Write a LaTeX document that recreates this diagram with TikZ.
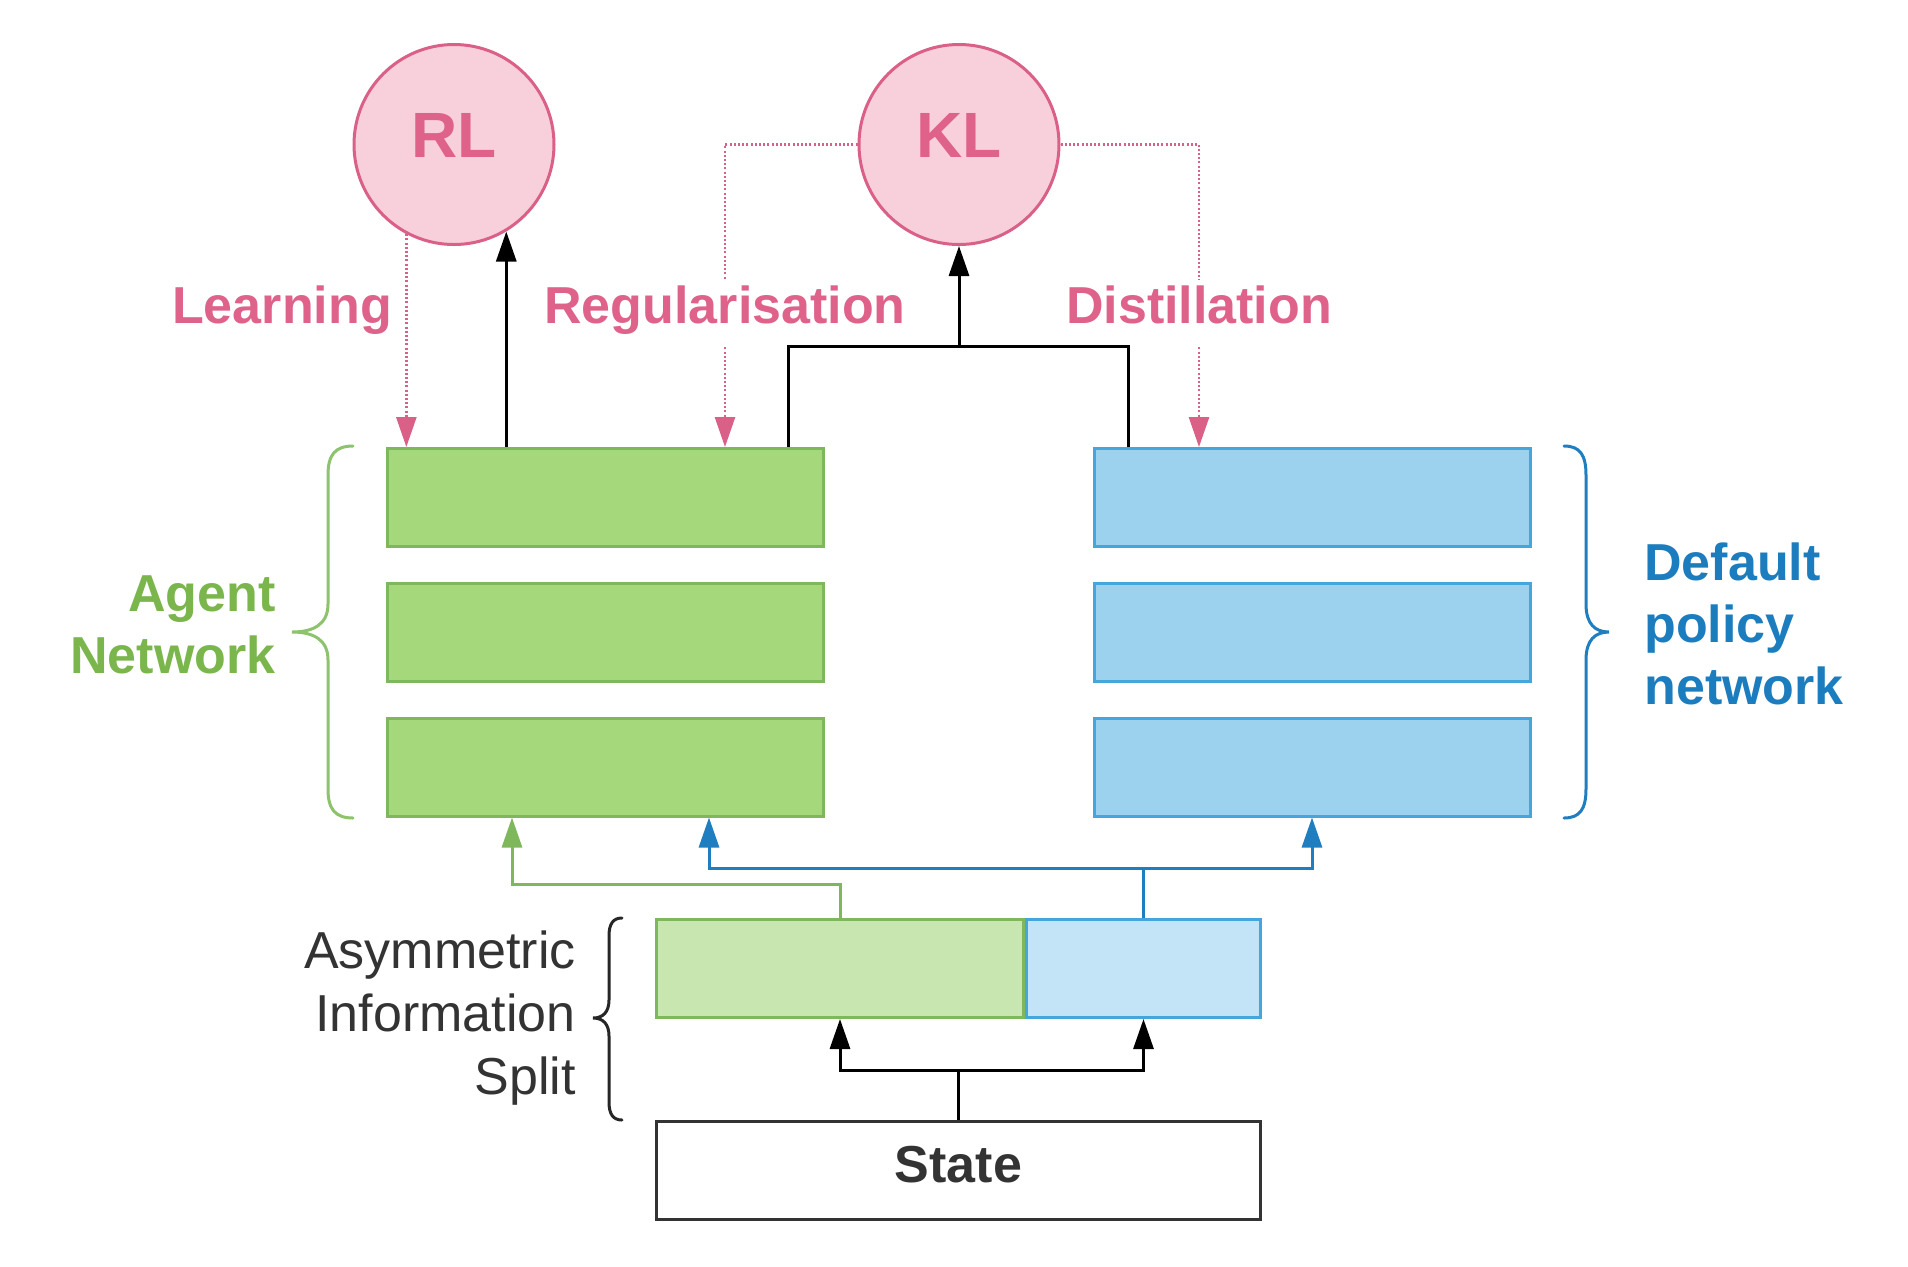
\documentclass[tikz,border=0pt]{standalone}
\usepackage{fontspec}
\setmainfont{Liberation Sans}
\usetikzlibrary{arrows.meta,calc}
\definecolor{pinktxt}{HTML}{DE628A}
\definecolor{pinkfill}{HTML}{F8D0DC}
\definecolor{pinkdraw}{HTML}{DA6088}
\definecolor{gfill}{HTML}{A5D87B}
\definecolor{gdraw}{HTML}{7FB85C}
\definecolor{gtxt}{HTML}{7AB64C}
\definecolor{glight}{HTML}{C8E6AF}
\definecolor{gbrace}{HTML}{8CC36C}
\definecolor{bfill}{HTML}{9DD2EF}
\definecolor{bdraw}{HTML}{45A6DD}
\definecolor{btxt}{HTML}{1C7DBE}
\definecolor{blight}{HTML}{C3E4F6}
\definecolor{bline}{HTML}{1E7EC0}
\definecolor{darktxt}{HTML}{333333}
\begin{document}
\begin{tikzpicture}[x=0.5pt,y=-0.5pt,
  lossnode/.style={circle, draw=pinkdraw, fill=pinkfill, line width=1.5pt, minimum size=100pt, inner sep=0pt,
    text=pinktxt, font=\bfseries\fontsize{32}{36}\selectfont, text height=23pt, text depth=10.5pt},
  layerg/.style={draw=gdraw, fill=gfill, line width=1.5pt, minimum width=218pt, minimum height=49pt, inner sep=0pt},
  layerb/.style={draw=bdraw, fill=bfill, line width=1.5pt, minimum width=218pt, minimum height=49pt, inner sep=0pt},
  lbl/.style={text=pinktxt, font=\bfseries\fontsize{26}{31}\selectfont, inner sep=0pt, text height=21.5pt, text depth=12pt},
  sidetxt/.style={font=\bfseries\fontsize{26}{31}\selectfont, inner sep=0pt},
  arrhead/.style={-{Triangle[length=15pt,width=10pt]}},
  blkline/.style={draw=black, line width=1.5pt},
  dotline/.style={draw=pinkdraw, line width=1.3pt, dash pattern=on 1pt off 1.1pt},
  pinkarr/.style={-{Triangle[length=15pt,width=10pt,fill=pinkdraw]}},
  gconn/.style={draw=gdraw, line width=1.5pt},
  bconn/.style={draw=bline, line width=1.5pt},
  bracestyle/.style={line width=1.5pt, line cap=round}
]
\fill[white] (0,0) rectangle (1908,1266);
\useasboundingbox (0,0) rectangle (1908,1266);

% loss circles
\node[lossnode] (RL) at (454,144.5) {RL};
\node[lossnode] (KL) at (959,144.5) {KL};

% agent layers
\node[layerg] (g1) at (605.5,497.5) {};
\node[layerg] (g2) at (605.5,632.5) {};
\node[layerg] (g3) at (605.5,767) {};
% default policy layers
\node[layerb] (b1) at (1312,497.5) {};
\node[layerb] (b2) at (1312,632.5) {};
\node[layerb] (b3) at (1312,767) {};

% split and state
\node[draw=gdraw, fill=glight, line width=1.5pt, minimum width=183.5pt, minimum height=49pt, inner sep=0pt] (sg) at (840,968.5) {};
\node[draw=bdraw, fill=blight, line width=1.5pt, minimum width=117pt, minimum height=49pt, inner sep=0pt] (sb) at (1143.5,968.5) {};
\node[draw=darktxt, fill=white, line width=1.5pt, minimum width=302pt, minimum height=49pt, inner sep=0pt,
  text=darktxt, font=\bfseries\fontsize{26}{31}\selectfont, text height=18.5pt, text depth=7pt] (state) at (958.5,1170.5) {State};

% labels
\node[lbl, anchor=base] (learn) at (282,323) {Learning};
\node[lbl, anchor=base] (reg) at (725,323) {Regularisation};
\node[lbl, anchor=base] (dist) at (1199,323) {Distillation};

\node[sidetxt, text=gtxt, align=right, anchor=east] (agent) at (276,624.5) {Agent\\Network};
\node[sidetxt, text=btxt, align=left, anchor=west] (dpn) at (1644,623.5) {Default\\policy\\network};
\node[font=\fontsize{26}{31.5}\selectfont, inner sep=0pt, text=darktxt, align=right, anchor=east] (ais) at (576,1018.5) {Asymmetric\\Information\\Split};

% dotted pink connectors
\draw[dotline,pinkarr] (RL.-118) -- (RL.-118 |- g1.north);
\draw[dotline] (KL.west) -| (reg.north);
\draw[dotline,pinkarr] (reg.south) -- (reg.south |- g1.north);
\draw[dotline] (KL.east) -| (dist.north);
\draw[dotline,pinkarr] (dist.south) -- (dist.south |- b1.north);

% black connectors to losses
\draw[blkline,arrhead] (RL.-59 |- g1.north) -- (RL.-59);
\coordinate (kj) at (959,346);
\draw[blkline] ($(g1.north east)+(-37,0)$) |- (kj) -| ($(b1.north west)+(36,0)$);
\draw[blkline,arrhead] (kj) -- (KL.south);

% state to split
\coordinate (sj) at ($(state.north)+(0,-50)$);
\draw[blkline] (state.north) -- (sj);
\draw[blkline,arrhead] (sj) -| (sg.south);
\draw[blkline,arrhead] (sj) -| (sb.south);

% split to networks
\coordinate (gj) at (512,884);
\draw[gconn,-{Triangle[length=15pt,width=10pt]}] (sg.north) |- (gj) -- (gj |- g3.south);
\coordinate (bj) at (1143.5,868);
\draw[bconn] (sb.north) -- (bj);
\draw[bconn,-{Triangle[length=15pt,width=10pt]}] (bj) -| ($(g3.south west)+(323,0)$);
\draw[bconn,-{Triangle[length=15pt,width=10pt]}] (bj) -| (b3.south);

% braces
\draw[bracestyle, draw=gbrace] (353,446) .. controls (335,446) and (328,455) .. (328,475) -- (328,604)
  .. controls (328,624) and (314,632) .. (292,632) .. controls (314,632) and (328,640) .. (328,660)
  -- (328,789) .. controls (328,809) and (335,818) .. (353,818);
\draw[bracestyle, draw=bline] (1564,446) .. controls (1580,446) and (1586,455) .. (1586,475) -- (1586,604)
  .. controls (1586,624) and (1595,632) .. (1609,632) .. controls (1595,632) and (1586,640) .. (1586,660)
  -- (1586,789) .. controls (1586,809) and (1580,818) .. (1564,818);
\draw[bracestyle, draw=black!85] (622,918) .. controls (613,918) and (609,924) .. (609,936) -- (609,1000)
  .. controls (609,1012) and (603,1018) .. (593,1018) .. controls (603,1018) and (609,1024) .. (609,1036)
  -- (609,1102) .. controls (609,1114) and (613,1120) .. (622,1120);
\end{tikzpicture}
\end{document}
